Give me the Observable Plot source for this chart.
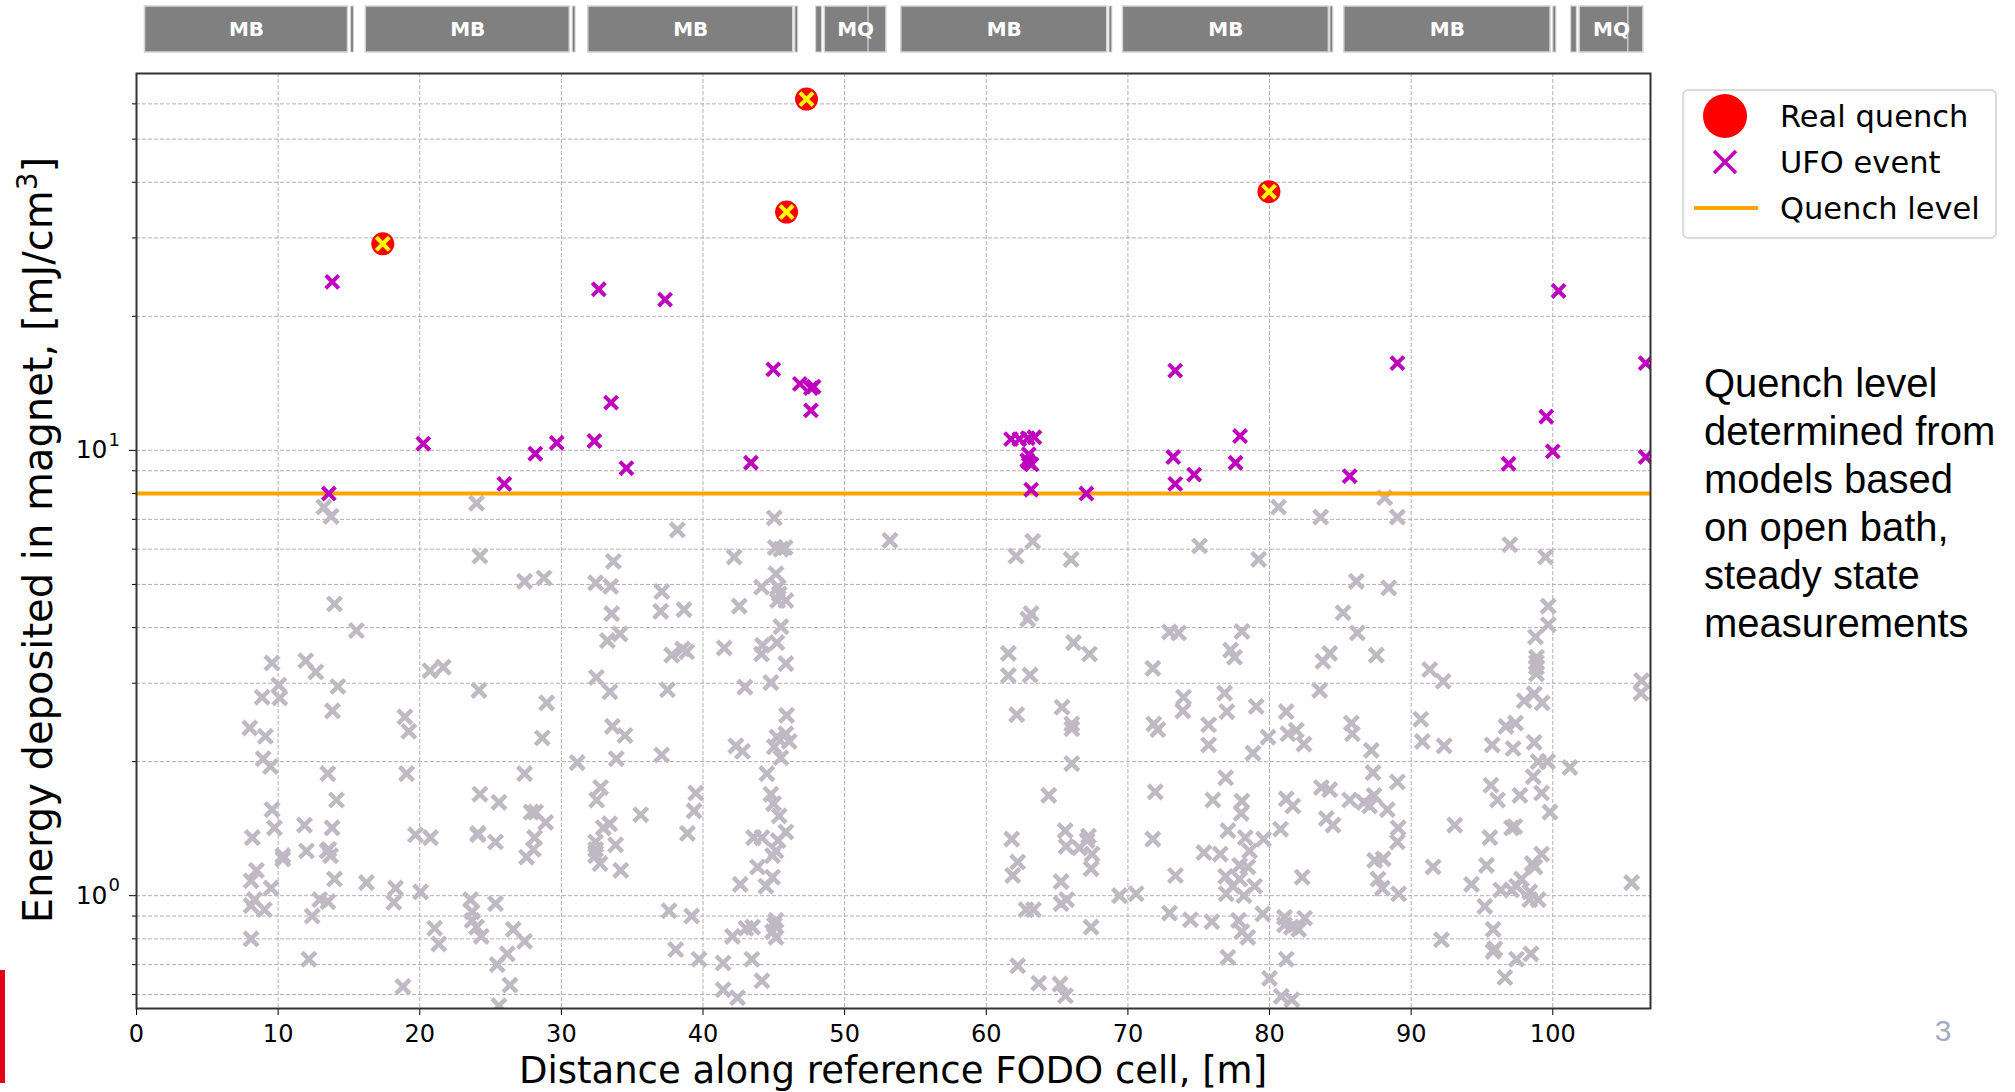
<!DOCTYPE html>
<html>
<head>
<meta charset="utf-8">
<script src="https://cdn.jsdelivr.net/npm/d3@7"></script>
<script src="https://cdn.jsdelivr.net/npm/@observablehq/plot@0.6"></script>
<style>
  html, body { margin: 0; padding: 0; background: #ffffff; }
  #page { position: relative; width: 2015px; height: 1092px; overflow: hidden; background: #ffffff; }
  #page > .layer { position: absolute; left: 0; top: 0; }
  .txt { position: absolute; white-space: nowrap; color: #000; }
  #ylabel { left: 38px; top: 540px; transform: translate(-50%, -50%) rotate(-90deg); font: 40px "DejaVu Sans"; }
  #xlabel { left: 893px; top: 1070px; transform: translate(-50%, -50%); font: 37px "DejaVu Sans"; }
  #note { left: 1704px; top: 359px; font: 40px "Liberation Sans", Arial, sans-serif; line-height: 48px; }
  #pagenum { left: 1943px; top: 1031px; transform: translate(-50%, -50%); font: 30px "Liberation Sans", Arial, sans-serif; color: #a3aac6; }
  #redbar { position: absolute; left: 0; top: 970px; width: 5px; height: 113px; background: #e3001b; }
  #legend { position: absolute; left: 1682px; top: 89px; }
</style>
</head>
<body>
<div id="page"></div>
<script>
// ---------------- data ----------------
const cellLength = 106.9;            // m, reference FODO cell
const quenchLevel = 8;                // mJ/cm^3

const xTicks = [0, 10, 20, 30, 40, 50, 60, 70, 80, 90, 100];
const yMajorTicks = [1, 10];
const yMajorExponents = ["0", "1"];
const yMinorTicks = [0.6, 0.7, 0.8, 0.9, 2, 3, 4, 5, 6, 7, 8, 9, 20, 30, 40, 50, 60];

// magnets along the cell (top strip)
const magnetType  = ["MB", "MB", "MB", "MQ", "MB", "MB", "MB", "MQ"];
const magnetStart = [0.6, 16.19, 31.9, 48.6, 54.0, 69.65, 85.28, 101.9];
const magnetEnd   = [14.93, 30.59, 46.37, 52.95, 68.54, 84.19, 99.84, 106.4];
const spoolStart  = [15.15, 30.8, 46.52, 47.99, 68.7, 84.3, 100.04, 101.3];
const spoolEnd    = [15.35, 31.0, 46.72, 48.4, 68.9, 84.5, 100.25, 101.7];
const mqSplit     = [51.65, 105.3];

// real quenches [distance m, energy mJ/cm3]
const realQuenches = [[17.39, 29.1], [45.90, 34.3], [47.31, 61.5], [79.96, 38.1]];

// UFO events above quench level
const ufoEvents = [
  [13.82, 23.9], [32.64, 23.0], [33.51, 12.8], [20.25, 10.35], [29.67, 10.4], [32.33, 10.5],
  [28.16, 9.83], [34.59, 9.12], [25.97, 8.41], [13.58, 8.0], [37.32, 21.8], [44.96, 15.2],
  [46.84, 14.1], [47.62, 13.8], [47.81, 13.9], [47.62, 12.3], [43.38, 9.38], [61.75, 10.6],
  [62.34, 10.6], [62.93, 10.65], [63.40, 10.7], [63.0, 9.8], [62.9, 9.5], [63.2, 9.3],
  [63.0, 9.4], [63.17, 8.16], [67.07, 8.0], [73.34, 15.1], [89.03, 15.7], [100.41, 22.8],
  [106.56, 15.7], [99.54, 11.9], [100.0, 9.95], [106.56, 9.66], [96.88, 9.33], [77.92, 10.77],
  [77.6, 9.38], [73.2, 9.66], [74.68, 8.82], [73.34, 8.41], [85.66, 8.75]
];

// UFO events below quench level (grey)
const belowLevelEvents = [
  [13.23,7.46],[13.74,7.11],[13.98,4.52],[15.53,3.94],[9.57,3.33],[11.95,3.37],[12.66,3.18],[10.05,2.97],
  [8.87,2.79],[10.12,2.78],[14.22,2.95],[13.84,2.60],[8.00,2.38],[9.10,2.28],[8.94,2.03],[9.46,1.95],
  [13.51,1.88],[14.12,1.64],[9.57,1.56],[9.74,1.42],[11.86,1.44],[13.81,1.42],[8.18,1.35],[10.33,1.23],
  [10.33,1.21],[12.0,1.26],[13.58,1.27],[13.70,1.23],[13.46,1.26],[8.47,1.14],[8.09,1.08],[9.50,1.04],
  [13.98,1.09],[16.24,1.07],[18.29,1.04],[18.17,0.966],[19.70,1.37],[20.76,1.35],[20.06,1.02],[8.33,0.98],
  [8.09,0.95],[9.03,0.93],[12.94,0.98],[13.51,0.97],[12.40,0.90],[8.09,0.80],[12.17,0.72],[18.81,0.625],
  [21.05,0.845],[21.35,0.779],[20.72,3.20],[21.66,3.26],[18.95,2.52],[19.23,2.34],[19.07,1.88],
  [24.01,7.61],[38.19,6.63],[24.25,5.79],[27.40,5.08],[28.77,5.17],[32.42,5.04],[33.67,5.63],[33.48,4.95],
  [37.09,4.82],[37.01,4.35],[38.66,4.39],[33.55,4.30],[33.25,3.74],[34.14,3.87],[37.79,3.47],[38.55,3.58],
  [38.85,3.53],[32.47,3.09],[33.43,2.87],[37.49,2.90],[24.18,2.89],[28.96,2.71],[28.65,2.26],[33.60,2.40],
  [34.49,2.29],[37.08,2.07],[33.88,2.03],[31.12,1.99],[27.40,1.88],[24.25,1.69],[25.59,1.62],[32.77,1.75],
  [32.49,1.64],[27.87,1.54],[28.18,1.54],[28.89,1.46],[35.60,1.52],[39.49,1.70],[39.37,1.55],[38.90,1.38],
  [24.10,1.38],[24.10,1.37],[25.35,1.32],[28.11,1.35],[28.02,1.27],[27.54,1.22],[33.41,1.45],[32.96,1.42],
  [32.42,1.32],[32.42,1.27],[32.42,1.23],[32.73,1.18],[33.83,1.30],[34.19,1.14],[23.59,0.98],[23.70,0.92],
  [23.70,0.88],[24.01,0.85],[24.34,0.81],[25.35,0.96],[26.60,0.84],[27.40,0.79],[26.18,0.74],[25.47,0.70],
  [26.37,0.63],[25.59,0.566],[37.60,0.925],[39.20,0.90],[38.07,0.757],[39.72,0.72],
  [45.03,7.05],[53.20,6.28],[45.1,6.05],[45.5,6.0],[45.8,6.05],[42.20,5.76],[45.15,5.28],[44.13,4.93],
  [45.31,4.93],[45.38,4.76],[45.85,4.60],[45.26,4.60],[42.56,4.47],[45.50,4.02],[41.50,3.60],[44.20,3.65],
  [44.13,3.49],[45.22,3.70],[45.85,3.32],[42.96,2.94],[44.79,3.01],[45.90,2.54],[45.22,2.27],[45.85,2.31],
  [46.09,2.22],[45.03,2.16],[45.50,2.04],[42.32,2.17],[42.79,2.11],[44.51,1.88],[44.79,1.69],[44.98,1.61],
  [45.38,1.51],[43.57,1.35],[44.16,1.35],[45.85,1.39],[45.31,1.33],[45.15,1.26],[44.91,1.23],[43.85,1.16],
  [42.63,1.06],[44.91,1.10],[44.44,1.05],[42.08,0.81],[43.03,0.845],[43.50,0.85],[45.15,0.88],[44.91,0.83],
  [45.15,0.806],[45.03,0.86],[41.42,0.706],[43.45,0.72],[44.16,0.644],[41.42,0.615],[42.44,0.59],
  [63.28,6.25],[62.10,5.79],[65.99,5.69],[75.06,6.10],[63.16,4.30],[62.93,4.18],[61.56,3.50],[66.16,3.70],
  [67.29,3.49],[61.56,3.12],[63.09,3.13],[72.94,3.91],[73.58,3.89],[71.76,3.24],[62.15,2.55],[65.35,2.65],
  [66.04,2.43],[66.04,2.37],[66.04,1.98],[64.41,1.68],[71.83,2.43],[72.11,2.36],[73.93,2.79],[73.88,2.60],
  [75.70,2.42],[75.70,2.18],[76.83,2.85],[76.99,2.59],[76.90,1.84],[71.93,1.71],[76.00,1.64],[61.80,1.34],
  [62.22,1.19],[61.87,1.11],[65.57,1.40],[65.64,1.29],[66.58,1.28],[67.22,1.36],[67.12,1.33],[67.47,1.24],
  [67.40,1.15],[65.28,1.075],[65.28,0.96],[65.68,0.98],[62.81,0.93],[63.33,0.93],[67.40,0.85],[69.41,1.0],
  [70.58,1.01],[71.76,1.34],[73.36,1.11],[75.37,1.25],[76.52,1.24],[76.90,1.105],[76.94,1.01],[72.94,0.914],
  [74.42,0.883],[75.93,0.874],[62.22,0.696],[63.71,0.636],[65.21,0.633],[65.59,0.596],[77.06,0.727],[77.06,1.40],
  [80.64,7.46],[83.61,7.08],[88.13,7.83],[89.03,7.08],[79.23,5.69],[86.13,5.08],[88.42,4.91],[85.19,4.32],
  [86.20,3.89],[78.05,3.92],[77.25,3.56],[77.53,3.43],[84.25,3.50],[83.77,3.36],[87.54,3.47],[91.31,3.22],
  [92.26,3.03],[79.06,2.66],[79.89,2.27],[78.83,2.09],[83.54,2.89],[81.18,2.59],[81.30,2.31],[81.89,2.35],
  [82.43,2.19],[85.78,2.44],[85.85,2.31],[87.19,2.12],[90.68,2.49],[90.79,2.22],[92.33,2.17],[78.05,1.63],
  [78.0,1.53],[78.29,1.35],[78.59,1.26],[79.58,1.34],[77.89,1.17],[78.47,1.16],[77.89,1.09],[77.41,1.05],
  [78.95,1.05],[78.19,1.00],[81.18,1.65],[81.65,1.59],[80.78,1.41],[83.66,1.75],[84.25,1.73],[84.01,1.49],
  [84.48,1.44],[85.66,1.64],[86.67,1.62],[87.07,1.59],[87.38,1.68],[87.31,1.89],[89.03,1.80],[88.32,1.56],
  [89.08,1.42],[89.03,1.32],[87.43,1.20],[88.02,1.21],[87.66,1.09],[87.97,1.04],[89.12,1.01],[82.31,1.10],
  [91.55,1.16],[93.08,1.44],[79.53,0.91],[77.81,0.88],[78.05,0.83],[78.47,0.806],[81.06,0.894],[81.54,0.85],
  [81.06,0.86],[82.06,0.84],[82.48,0.89],[81.18,0.72],[80.0,0.652],[80.83,0.594],[81.58,0.584],[92.14,0.796],
  [96.97,6.14],[99.49,5.76],[99.68,4.47],[99.68,4.06],[98.78,3.81],[98.85,3.43],[98.85,3.34],[98.85,3.26],
  [98.85,3.15],[97.98,2.74],[98.69,2.84],[99.25,2.71],[106.27,3.04],[106.23,2.85],[96.69,2.40],[97.37,2.44],
  [97.20,2.14],[95.72,2.18],[98.69,2.21],[98.97,2.00],[99.63,2.0],[101.21,1.94],[98.62,1.85],[95.63,1.77],
  [96.10,1.64],[97.68,1.68],[99.21,1.70],[99.80,1.54],[95.56,1.35],[97.09,1.42],[97.32,1.43],[95.32,1.17],
  [98.55,1.18],[99.21,1.24],[98.74,1.16],[94.26,1.06],[96.33,1.03],[97.09,1.03],[97.79,1.09],[97.44,1.05],
  [98.38,0.98],[98.97,0.98],[98.38,1.02],[95.20,0.946],[105.57,1.07],[95.79,0.84],[95.91,0.76],[95.79,0.75],
  [97.44,0.72],[98.45,0.74],[96.62,0.655]
];

// legend / annotation text
const legendLabels = ["Real quench", "UFO event", "Quench level"];
const noteLines = ["Quench level", "determined from", "models based", "on open bath,", "steady state", "measurements"];

// ---------------- drawing ----------------
const page = document.getElementById("page");
const W = 2015, H = 1092;
const ML = 136, MR = 365;
const gridStyle = {stroke: "#b0b0b0", strokeOpacity: 1, strokeWidth: 1, strokeDasharray: "4,2"};
const px = d => d[0], py = d => d[1];

const chart = Plot.plot({
  width: W, height: H,
  marginLeft: ML, marginRight: MR, marginTop: 73, marginBottom: 84,
  style: {background: "transparent", fontFamily: "DejaVu Sans", fontSize: "24px", color: "#000", overflow: "visible"},
  x: {domain: [0, cellLength]},
  y: {type: "log", domain: [0.558, 70.2]},
  marks: [
    Plot.gridX(xTicks, gridStyle),
    Plot.gridY(yMajorTicks.concat(yMinorTicks), gridStyle),
    Plot.dot(belowLevelEvents, {x: px, y: py, symbol: "times", r: 6.4, stroke: "#c0b9c4", strokeWidth: 4.5, clip: true}),
    Plot.ruleY([quenchLevel], {stroke: "#ffa500", strokeWidth: 4}),
    Plot.dot(ufoEvents, {x: px, y: py, symbol: "times", r: 6, stroke: "#bf00bf", strokeWidth: 4, clip: true}),
    Plot.dot(realQuenches, {x: px, y: py, r: 11.5, fill: "#ff0000", clip: true}),
    Plot.dot(realQuenches, {x: px, y: py, symbol: "times", r: 6, stroke: "#ffff00", strokeWidth: 4, clip: true}),
    Plot.axisX({ticks: xTicks, tickSize: 7, tickPadding: 9, label: null, fontSize: 24, tickFormat: d => String(d)}),
    Plot.axisY({ticks: yMajorTicks, tickSize: 7, label: null, tickFormat: () => ""}),
    Plot.axisY({ticks: yMinorTicks, tickSize: 4, label: null, tickFormat: () => ""}),
    // major tick labels as 10^n (base + raised exponent)
    Plot.text(yMajorTicks, {y: d => d, frameAnchor: "left", dx: -29, text: () => "10", textAnchor: "end",
                            fontSize: 25, fill: "#000"}),
    Plot.text(yMajorTicks, {y: d => d, frameAnchor: "left", dx: -28, dy: -10,
                            text: (d, i) => yMajorExponents[i], textAnchor: "start", fontSize: 18, fill: "#000"}),
    Plot.frame({stroke: "#333333", strokeWidth: 2})
  ]
});
chart.classList.add("layer");
page.appendChild(chart);

// magnet strip above the plot, sharing the x scale
const magnets = magnetType.map((t, i) => ({type: t, start: magnetStart[i], end: magnetEnd[i]}));
const spools = spoolStart.map((s, i) => ({start: s, end: spoolEnd[i]}));
const strip = Plot.plot({
  width: W, height: 58,
  marginLeft: ML, marginRight: MR, marginTop: 6, marginBottom: 6,
  style: {background: "transparent", fontFamily: "DejaVu Sans", overflow: "visible"},
  x: {domain: [0, cellLength], axis: null},
  marks: [
    Plot.rect(magnets, {x1: "start", x2: "end", fill: "#808080", stroke: "#d4d4d4", strokeWidth: 1.5}),
    Plot.rect(spools, {x1: "start", x2: "end", fill: "#808080", stroke: "#d4d4d4", strokeWidth: 1}),
    Plot.ruleX(mqSplit, {stroke: "#e8e8e8", strokeWidth: 1}),
    Plot.text(magnets, {x: d => (d.start + d.end) / 2, text: "type", frameAnchor: "middle",
                        fill: "#ffffff", fontSize: 20, fontWeight: "bold"})
  ]
});
strip.classList.add("layer");
page.appendChild(strip);

// legend
const ns = "http://www.w3.org/2000/svg";
const lg = document.createElementNS(ns, "svg");
lg.setAttribute("id", "legend");
lg.setAttribute("width", 316); lg.setAttribute("height", 151);
lg.innerHTML = `
  <rect x="1" y="1" width="313" height="148" rx="5" ry="5" fill="#ffffff" fill-opacity="0.85" stroke="#d0d0d0" stroke-width="1.5"/>
  <circle cx="43" cy="27" r="22" fill="#ff0000"/>
  <path d="M32,62 L54,84 M54,62 L32,84" stroke="#bf00bf" stroke-width="3.5" fill="none"/>
  <line x1="12" x2="76" y1="119" y2="119" stroke="#ffa500" stroke-width="4"/>
  ${legendLabels.map((t, i) => `<text x="98" y="${27 + i * 46}" dy="0.35em" font-family="DejaVu Sans" font-size="30.5" fill="#000">${t}</text>`).join("")}
`;
page.appendChild(lg);

function addText(id, html) {
  const d = document.createElement("div");
  d.id = id; d.className = "txt"; d.innerHTML = html;
  page.appendChild(d);
}
addText("ylabel", 'Energy deposited in magnet, [mJ/cm<sup style="font-size:70%;vertical-align:0.55em;line-height:0">3</sup>]');
addText("xlabel", "Distance along reference FODO cell, [m]");
addText("note", noteLines.join("<br>"));
addText("pagenum", "3");
const rb = document.createElement("div"); rb.id = "redbar"; page.appendChild(rb);
</script>
</body>
</html>
